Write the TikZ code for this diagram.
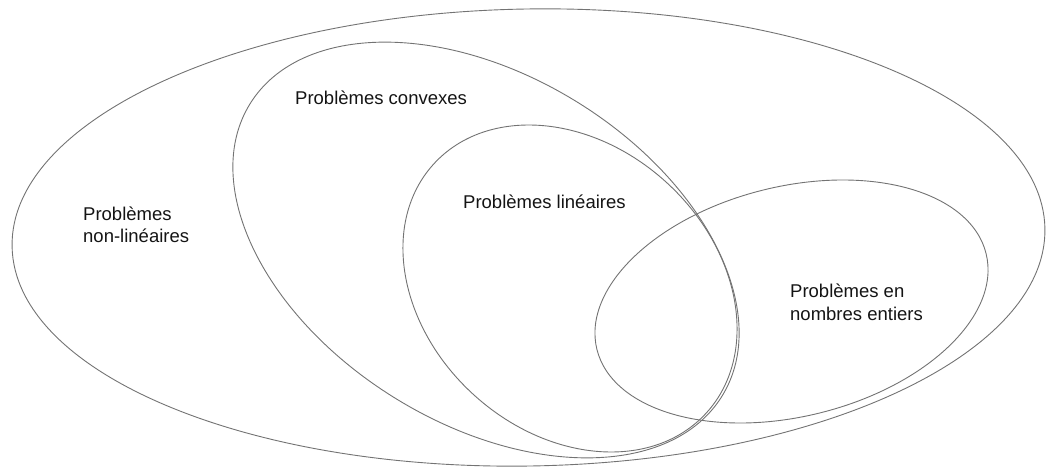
\documentclass[tikz,border=0pt]{standalone}
\usepackage{fontspec}
\setmainfont{Liberation Sans}
\begin{document}
\begin{tikzpicture}[x=1pt,y=1pt,
  setline/.style={draw={rgb,255:red,115;green,115;blue,115}, line width=0.9pt},
  setlabel/.style={anchor=base west, inner sep=0pt, align=left,
    font=\fontsize{18.5}{22.5}\selectfont, text={rgb,255:red,20;green,20;blue,20}}]
\useasboundingbox (0,0) rectangle (1047,469);
% outer: all problems
\draw[setline, rotate around={1:(528.5,231.5)}] (528.5,231.5) ellipse [x radius=516.5, y radius=228.5];
% convex
\draw[setline, rotate around={-31.8:(486,219)}] (486,219) ellipse [x radius=277.6, y radius=173.8];
% linear
\draw[setline, rotate around={-42.5:(570,180.5)}] (570,180.5) ellipse [x radius=184.6, y radius=143.4];
% integer
\draw[setline, rotate around={13.8:(791.5,167.5)}] (791.5,167.5) ellipse [x radius=200.4, y radius=115];
\node[setlabel] (nonlin) at (83,226) {Problèmes\\non-linéaires};
\node[setlabel] (conv) at (295,364) {Problèmes convexes};
\node[setlabel] (lin) at (463,260) {Problèmes linéaires};
\node[setlabel] (ent) at (790,149) {Problèmes en\\nombres entiers};
\end{tikzpicture}
\end{document}
